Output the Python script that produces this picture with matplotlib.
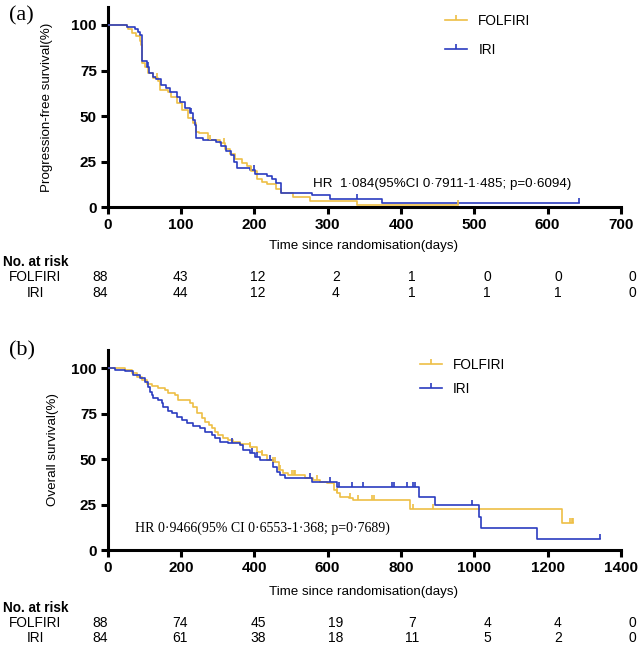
import numpy as np
import matplotlib
matplotlib.use("Agg")
import matplotlib.pyplot as plt
from matplotlib.lines import Line2D

plt.rcParams['font.family'] = ['Liberation Sans', 'DejaVu Sans']

YELLOW = '#EEBF45'
BLUE = '#2B3CC0'

# ---------------- Panel (a): progression-free survival ----------------
pfs_folfiri_t = [0, 26, 28, 33, 39, 44, 46, 47, 51, 55, 62, 69, 71, 82, 87, 94, 101, 110, 116,
                 121, 124, 137, 153, 160, 167, 174, 183, 190, 196, 203, 210, 217, 230, 237, 253,
                 276, 340, 478]
pfs_folfiri_s = [100, 98.9, 97.6, 95.8, 94, 91, 89, 79, 77, 73.5, 70.8, 69, 64.5, 63.4, 60.7, 57,
                 53.4, 48.8, 46, 41.5, 41, 37, 35, 32, 29, 26.5, 24.5, 22.9, 20, 15.5, 13.6, 12.7,
                 10, 8, 5.7, 3.4, 1.1, 1.1]
pfs_folfiri_cens = [67, 140, 158, 196, 478]

pfs_iri_t = [0, 26, 37, 42, 44, 47, 53, 57, 62, 66, 73, 80, 85, 94, 99, 105, 112, 117, 119, 121,
             130, 148, 155, 162, 168, 172, 176, 194, 201, 217, 224, 230, 237, 278, 303, 374, 643]
pfs_iri_s = [100, 98.8, 97.6, 96.4, 94.5, 80, 77.1, 73.5, 71.5, 70.2, 67, 65.3, 63.4, 60.7, 57.9,
             54.3, 51.5, 47.9, 45.4, 38, 37, 36, 33.5, 31, 28.5, 25, 21.6, 20.7, 18, 17, 15.5,
             13.5, 7.9, 6.6, 4.4, 2.2, 2.2]
pfs_iri_cens = [55, 113, 200, 340, 643]

pfs_xticks = [0, 100, 200, 300, 400, 500, 600, 700]
pfs_risk_folfiri = [88, 43, 12, 2, 1, 0, 0, 0]
pfs_risk_iri = [84, 44, 12, 4, 1, 1, 1, 0]
pfs_hr = "HR  1\u00b7084(95%CI 0\u00b77911-1\u00b7485; p=0\u00b76094)"

# ---------------- Panel (b): overall survival ----------------
os_folfiri_t = [0, 47, 65, 79, 93, 106, 120, 138, 156, 165, 184, 193, 225, 234, 243, 256, 266,
                275, 284, 293, 302, 315, 329, 343, 361, 388, 407, 420, 434, 452, 466, 479, 493,
                538, 561, 579, 598, 616, 625, 634, 657, 670, 825, 1239, 1269]
os_folfiri_s = [100, 99, 97.6, 95.4, 93.6, 91.4, 90.3, 89, 88, 86.3, 85.3, 82.6, 80.7, 78.9, 75.2,
                72.5, 70.6, 68.8, 67, 65.1, 63.3, 61.5, 60.6, 59.6, 58.2, 56.9, 54.1, 52.3, 49.5,
                48.6, 44, 42.2, 41.3, 39.5, 38.5, 37.6, 36.7, 33, 31.2, 29.3, 28.4, 27.5, 22.4,
                14.7, 14.7]
os_folfiri_cens = [388, 420, 452, 457, 470, 502, 507, 511, 570, 625, 661, 684, 720, 725, 834, 887,
                   1262, 1265, 1269]

os_iri_t = [0, 20, 47, 70, 88, 102, 111, 115, 120, 124, 138, 147, 152, 165, 175, 188, 202, 216,
            234, 252, 266, 284, 293, 307, 329, 361, 370, 388, 402, 416, 452, 461, 470, 484, 557,
            625, 848, 893, 1014, 1018, 1171, 1344]
os_iri_s = [100, 99, 98.2, 96.3, 94.5, 92.6, 89.9, 87.1, 85.3, 83.5, 82.6, 80.7, 78.9, 76.2, 75.2,
            73.4, 71.6, 69.7, 68.3, 67, 65.1, 63.3, 61.5, 59.6, 58.7, 57.8, 55, 53.2, 51.4, 49.5,
            45.8, 43.1, 41.3, 39.5, 37.6, 34.8, 29.3, 24.8, 18.3, 11.9, 5.9, 5.9]
os_iri_cens = [338, 393, 407, 443, 552, 606, 632, 666, 696, 775, 780, 816, 832, 839, 993, 1344]

os_xticks = [0, 200, 400, 600, 800, 1000, 1200, 1400]
os_risk_folfiri = [88, 74, 45, 19, 7, 4, 4, 0]
os_risk_iri = [84, 61, 38, 18, 11, 5, 2, 0]
os_hr = "HR 0\u00b79466(95% CI 0\u00b76553-1\u00b7368; p=0\u00b77689)"

groups = ["FOLFIRI", "IRI"]
yticks = [0, 25, 50, 75, 100]

W, H = 641, 649
fig = plt.figure(figsize=(W / 100, H / 100), dpi=100)


def fx(px):
    return px / W


def fy(py):
    return 1 - py / H


def draw_km(ax, t, s, cens, color):
    ax.step(t, s, where='post', color=color, lw=1.2, zorder=3)
    t_arr = np.asarray(t)
    s_arr = np.asarray(s)
    idx = np.searchsorted(t_arr, cens, side='right') - 1
    ax.plot(cens, s_arr[idx], linestyle='none', marker=2, ms=3.5, mew=1.2, color=color, zorder=4)


def style_axes(ax, xticks):
    ax.set_xlim(xticks[0], xticks[-1])
    ax.set_ylim(0, 110)
    ax.set_xticks(xticks)
    ax.set_yticks(yticks)
    for sp in ['top', 'right']:
        ax.spines[sp].set_visible(False)
    for sp in ['left', 'bottom']:
        ax.spines[sp].set_linewidth(2.2)
    ax.tick_params(axis='both', length=4.8, width=2.2, pad=3, labelsize=11)
    for lab in ax.get_xticklabels() + ax.get_yticklabels():
        lab.set_fontweight('bold')


col_x = [100, 180, 258, 336, 412, 487, 558, 632]


def panel(ax_rect, label, label_xy, xticks, curves, ylabel, ylabel_x, hr, hr_xy, hr_font,
          legend_anchor, legend_spacing, xlabel_y, rows_y, risk):
    ax = fig.add_axes(ax_rect)
    for (t, s, c, col) in curves:
        draw_km(ax, t, s, c, col)
    style_axes(ax, xticks)
    ax.text(hr_xy[0], hr_xy[1], hr, fontsize=10 if hr_font != 'sans' else 9.6,
            family=['Liberation Serif'] if hr_font != 'sans' else ['Liberation Sans'],
            ha='left', va='center')
    handles = [Line2D([], [], color=col, lw=1.2, marker=2, ms=3.5, mew=1.2)
               for (_, _, _, col) in curves]
    ax.legend(handles, groups, loc='upper left', bbox_to_anchor=legend_anchor, frameon=False,
              numpoints=1, fontsize=9.8, handlelength=1.65, handletextpad=0.8, borderpad=0,
              borderaxespad=0, labelspacing=legend_spacing)
    fig.text(fx(ylabel_x), ax_rect[1] + ax_rect[3] / 2, ylabel, rotation=90, ha='center',
             va='center', fontsize=9.6)
    fig.text(fx(364), fy(xlabel_y), "Time since randomisation(days)", ha='center', va='center',
             fontsize=9.6)
    fig.text(fx(label_xy[0]), fy(label_xy[1]), label, ha='center', va='center', fontsize=16,
             family=['Liberation Serif'])
    fig.text(fx(3), fy(rows_y[0]), "No. at risk", ha='left', va='center', fontsize=9.8,
             fontweight='bold')
    for g, yy, vals in zip(groups, rows_y[1:], risk):
        fig.text(fx(35), fy(yy), g, ha='center', va='center', fontsize=9.8)
        for xx, v in zip(col_x, vals):
            fig.text(fx(xx), fy(yy), str(v), ha='center', va='center', fontsize=10)
    return ax


panel([fx(107.7), fy(207.3), 513.3 / W, 200.6 / H], "(a)", (21, 16), pfs_xticks,
      [(pfs_folfiri_t, pfs_folfiri_s, pfs_folfiri_cens, YELLOW),
       (pfs_iri_t, pfs_iri_s, pfs_iri_cens, BLUE)],
      "Progression-free survival(%)", 46.7, pfs_hr, (280, 13), 'sans',
      (0.657, 0.965), 1.1, 246, (262, 277, 293), [pfs_risk_folfiri, pfs_risk_iri])

panel([fx(107.7), fy(550), 513.3 / W, 200 / H], "(b)", (22, 351), os_xticks,
      [(os_folfiri_t, os_folfiri_s, os_folfiri_cens, YELLOW),
       (os_iri_t, os_iri_s, os_iri_cens, BLUE)],
      "Overall survival(%)", 53, os_hr, (74, 11.8), 'serif',
      (0.608, 0.96), 0.75, 592, (608, 623, 638), [os_risk_folfiri, os_risk_iri])

fig.savefig("out.png", dpi=100)
